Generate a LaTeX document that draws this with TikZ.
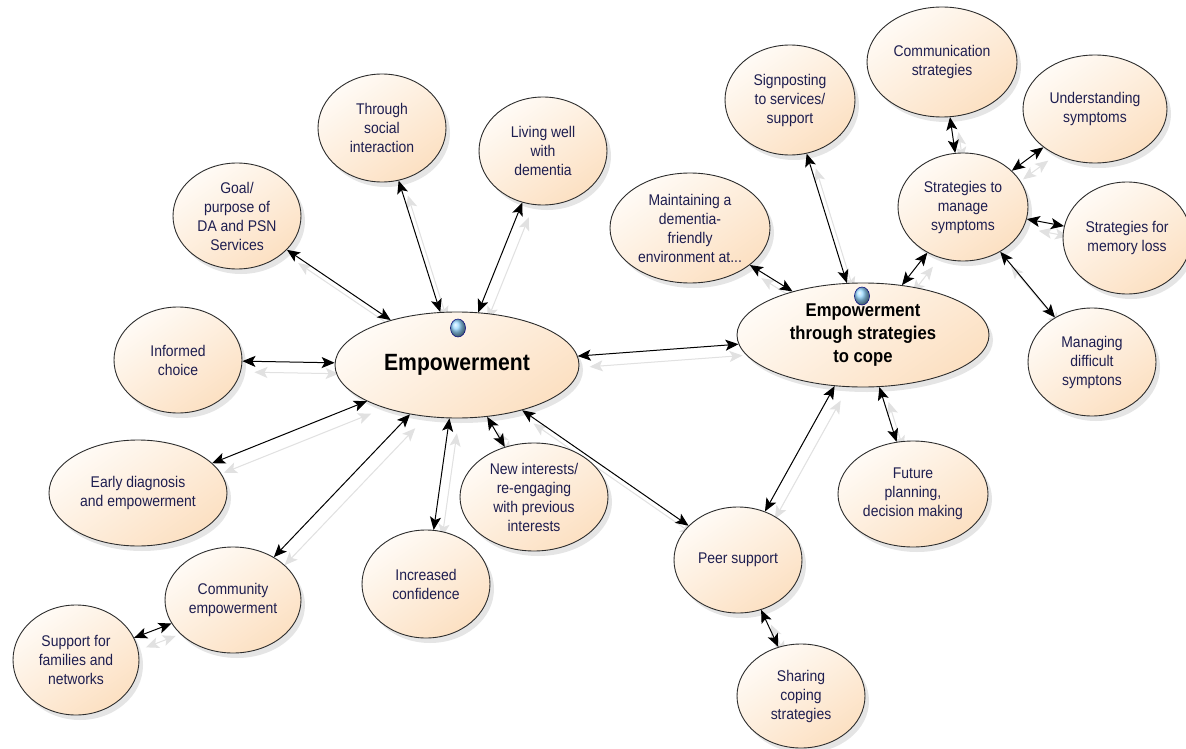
\documentclass[tikz,border=0pt]{standalone}
\usepackage{fontspec}
\setmainfont{Liberation Sans}[FakeStretch=0.9]
\usetikzlibrary{shapes.geometric,arrows.meta,shadows,backgrounds}

\definecolor{peach}{RGB}{252,224,194}
\definecolor{peachlight}{RGB}{255,251,246}
\definecolor{inkblue}{RGB}{30,30,80}
\definecolor{rimgray}{RGB}{45,45,45}
\definecolor{ghostgray}{RGB}{225,225,225}

\tikzset{
  idea/.style={ellipse, draw=rimgray, line width=0.9pt, top color=peachlight, bottom color=peach, shading angle=35,
    drop shadow={shadow xshift=4pt, shadow yshift=-5pt, opacity=0.2}, align=center, inner sep=0pt,
    text=inkblue, font=\fontsize{15.5}{19}\selectfont},
  hub/.style={idea, text=black, font=\bfseries\fontsize{18.5}{23}\selectfont},
  ballmark/.style={ellipse, minimum width=15pt, minimum height=18pt, inner sep=0pt, draw=blue!50!black, line width=0.5pt, ball color={rgb,255:red,150;green,215;blue,255}},
  link/.style={{Stealth[length=13pt,width=11pt,inset=3pt]}-{Stealth[length=13pt,width=11pt,inset=3pt]}, line width=1pt, black},
  ghost/.style={link, draw=ghostgray, fill=ghostgray, shorten <=4pt, shorten >=4pt, transform canvas={shift={(8pt,-11pt)}}}
}

\begin{document}
\begin{tikzpicture}[x=1pt, y=-1pt]
  \useasboundingbox (0,0) rectangle (1186,749);

  % centre of the map
  \node[hub, minimum width=244pt, minimum height=106pt, font=\bfseries\fontsize{23.5}{28}\selectfont] (emp) at (457,365) {Empowerment};
  \node[hub, minimum width=252pt, minimum height=104pt] (cope) at (863,335) {Empowerment\\through strategies\\to cope};

  % around Empowerment
  \node[idea, minimum width=128pt, minimum height=106pt] (choice) at (178,360) {Informed\\choice};
  \node[idea, minimum width=128pt, minimum height=106pt] (goal) at (237,216) {Goal/\\purpose of\\DA and PSN\\Services};
  \node[idea, minimum width=128pt, minimum height=108pt] (social) at (382,128) {Through\\social\\interaction};
  \node[idea, minimum width=128pt, minimum height=108pt] (living) at (543,151) {Living well\\with\\dementia};
  \node[idea, minimum width=178pt, minimum height=106pt] (early) at (138,493) {Early diagnosis\\and empowerment};
  \node[idea, minimum width=136pt, minimum height=106pt] (community) at (233,600) {Community\\empowerment};
  \node[idea, minimum width=126pt, minimum height=110pt] (families) at (76,660) {Support for\\families and\\networks};
  \node[idea, minimum width=128pt, minimum height=108pt] (confidence) at (426,584) {Increased\\confidence};
  \node[idea, minimum width=148pt, minimum height=108pt] (interests) at (534,497) {New interests/\\re-engaging\\with previous\\interests};

  % around Empowerment through strategies to cope
  \node[idea, minimum width=128pt, minimum height=106pt] (peer) at (738,560) {Peer support};
  \node[idea, minimum width=128pt, minimum height=104pt] (sharing) at (801,696) {Sharing\\coping\\strategies};
  \node[idea, minimum width=150pt, minimum height=106pt] (future) at (913,494) {Future\\planning,\\decision making};
  \node[idea, minimum width=160pt, minimum height=110pt] (maintaining) at (690,228) {Maintaining a\\dementia-\\friendly\\environment at...};
  \node[idea, minimum width=130pt, minimum height=110pt] (signposting) at (790,100) {Signposting\\to services/\\support};
  \node[idea, minimum width=130pt, minimum height=108pt] (manage) at (963,207) {Strategies to\\manage\\symptoms};
  \node[idea, minimum width=150pt, minimum height=110pt] (communication) at (942,62) {Communication\\strategies};
  \node[idea, minimum width=144pt, minimum height=108pt] (understanding) at (1095,109) {Understanding\\symptoms};
  \node[idea, minimum width=128pt, minimum height=112pt] (memory) at (1127,238) {Strategies for\\memory loss};
  \node[idea, minimum width=128pt, minimum height=108pt] (difficult) at (1092,362) {Managing\\difficult\\symptons};

  \node[ballmark] (ballA) at (458,328) {};
  \node[ballmark] (ballB) at (862,296) {};

  % white page and faint copies of the links
  \begin{scope}[on background layer]
    \fill[white] (0,0) rectangle (1186,749);
    \draw[ghost] (emp) -- (choice);
    \draw[ghost] (emp) -- (goal);
    \draw[ghost] (emp) -- (social);
    \draw[ghost] (emp) -- (living);
    \draw[ghost] (emp) -- (early);
    \draw[ghost] (emp) -- (community);
    \draw[ghost] (emp) -- (confidence);
    \draw[ghost] (emp) -- (interests);
    \draw[ghost] (emp) -- (peer);
    \draw[ghost] (emp) -- (cope);
    \draw[ghost] (community) -- (families);
    \draw[ghost] (cope) -- (maintaining);
    \draw[ghost] (cope) -- (signposting);
    \draw[ghost] (cope) -- (manage);
    \draw[ghost] (cope) -- (peer);
    \draw[ghost] (cope) -- (future);
    \draw[ghost] (peer) -- (sharing);
    \draw[ghost] (manage) -- (communication);
    \draw[ghost] (manage) -- (understanding);
    \draw[ghost] (manage) -- (memory);
    \draw[ghost] (manage) -- (difficult);
  \end{scope}

  % links
  \draw[link] (emp) -- (choice);
  \draw[link] (emp) -- (goal);
  \draw[link] (emp) -- (social);
  \draw[link] (emp) -- (living);
  \draw[link] (emp) -- (early);
  \draw[link] (emp) -- (community);
  \draw[link] (emp) -- (confidence);
  \draw[link] (emp) -- (interests);
  \draw[link] (emp) -- (peer);
  \draw[link] (emp) -- (cope);
  \draw[link] (community) -- (families);

  \draw[link] (cope) -- (maintaining);
  \draw[link] (cope) -- (signposting);
  \draw[link] (cope) -- (manage);
  \draw[link] (cope) -- (peer);
  \draw[link] (cope) -- (future);
  \draw[link] (peer) -- (sharing);

  \draw[link] (manage) -- (communication);
  \draw[link] (manage) -- (understanding);
  \draw[link] (manage) -- (memory);
  \draw[link] (manage) -- (difficult);
\end{tikzpicture}
\end{document}
